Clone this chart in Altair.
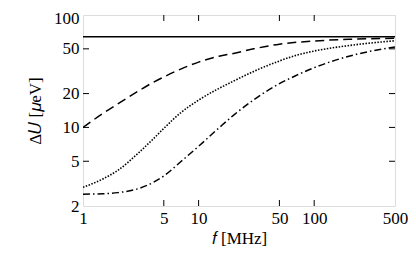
import altair as alt
import pandas as pd

# frequencies (MHz) and energy spread values (µeV)
f_solid = [1, 500]
u_solid = [64, 64]

f_dashed = [1, 1.5, 2, 3, 4, 5, 7, 10, 15, 20, 30, 50, 100, 200, 500]
u_dashed = [10, 13.4, 16.2, 21, 25, 28.1, 33, 38.1, 43, 45.5, 50, 55, 58.7, 60.8, 62]

f_dotted = [1, 1.5, 2, 3, 4, 5, 7, 10, 20, 30, 50, 70, 100, 200, 500]
u_dotted = [2.93, 3.5, 4.15, 5.9, 7.8, 9.8, 13.5, 17.5, 25.8, 31.5, 39, 43.8, 47.8, 53.5, 59]

f_dashdot = [1, 1.5, 2, 3, 4, 5, 7, 10, 15, 20, 30, 50, 70, 100, 200, 500]
u_dashdot = [2.55, 2.57, 2.63, 2.85, 3.22, 3.7, 4.95, 6.8, 9.9, 12.8, 17.6, 24.5, 29, 34, 43, 52]

x_ticks = [5, 10, 50, 100]
y_ticks = [5, 10, 20, 50]
x_labels = [1, 5, 10, 50, 100, 500]
y_labels = [2, 5, 10, 20, 50, 100]

W, H = 312, 191
FONT = "Liberation Serif"
FS = 17

def frame(fs, us, name):
    return pd.DataFrame({"f": fs, "u": us, "s": name})

xs = alt.Scale(type="log", domain=[1, 500], nice=False)
ys = alt.Scale(type="log", domain=[2, 100], nice=False)

xaxis = alt.Axis(values=x_labels, title="𝑓 [MHz]", ticks=False, domain=False, grid=False,
                 labelFont=FONT, labelFontSize=FS, labelColor="black", labelPadding=4,
                 titleFont=FONT, titleFontSize=FS, titleFontWeight="normal", titleColor="black",
                 titlePadding=4, labelFlush=False, labelOverlap=False)
yaxis = alt.Axis(values=y_labels, title="Δ𝑈 [𝜇eV]", ticks=False, domain=False, grid=False,
                 labelFont=FONT, labelFontSize=FS, labelColor="black", labelPadding=4,
                 labelOffset=alt.ExprRef(expr="datum.value == 100 ? 3.5 : 0"),
                 titleFont=FONT, titleFontSize=FS, titleFontWeight="normal", titleColor="black",
                 titlePadding=9, labelFlush=False, labelOverlap=False)

def line(df, dash, sw=1.5):
    enc = dict(x=alt.X("f:Q", scale=xs, axis=xaxis), y=alt.Y("u:Q", scale=ys, axis=yaxis))
    kw = dict(color="black", strokeWidth=sw, clip=True, interpolate="monotone")
    if dash:
        kw["strokeDash"] = dash
    return alt.Chart(df).mark_line(**kw).encode(**enc)

layers = [
    line(frame(f_solid, u_solid, "solid"), None),
    line(frame(f_dashed, u_dashed, "dashed"), [9, 5]),
    line(frame(f_dotted, u_dotted, "dotted"), [1.5, 1.5], 1.6),
    line(frame(f_dashdot, u_dashdot, "dashdot"), [7, 3, 1.5, 3]),
]

xt = pd.DataFrame({"t": x_ticks})
yt = pd.DataFrame({"t": y_ticks})
TL = 6
tick_style = dict(color="black", strokeWidth=1)
layers += [
    alt.Chart(xt).mark_rule(**tick_style).encode(x=alt.X("t:Q", scale=xs), y=alt.value(H), y2=alt.value(H - TL)),
    alt.Chart(xt).mark_rule(**tick_style).encode(x=alt.X("t:Q", scale=xs), y=alt.value(0), y2=alt.value(TL)),
    alt.Chart(yt).mark_rule(**tick_style).encode(y=alt.Y("t:Q", scale=ys), x=alt.value(0), x2=alt.value(TL)),
    alt.Chart(yt).mark_rule(**tick_style).encode(y=alt.Y("t:Q", scale=ys), x=alt.value(W), x2=alt.value(W - TL)),
]

chart = alt.layer(*layers).properties(
    width=W, height=H,
    autosize=alt.AutoSizeParams(type="none"),
    padding={"left": 75, "top": 7, "right": 13, "bottom": 43},
).configure_view(stroke="black", strokeWidth=1.5).configure(background="white")

chart.save("out.html", embed_options={"renderer": "svg", "actions": False})
